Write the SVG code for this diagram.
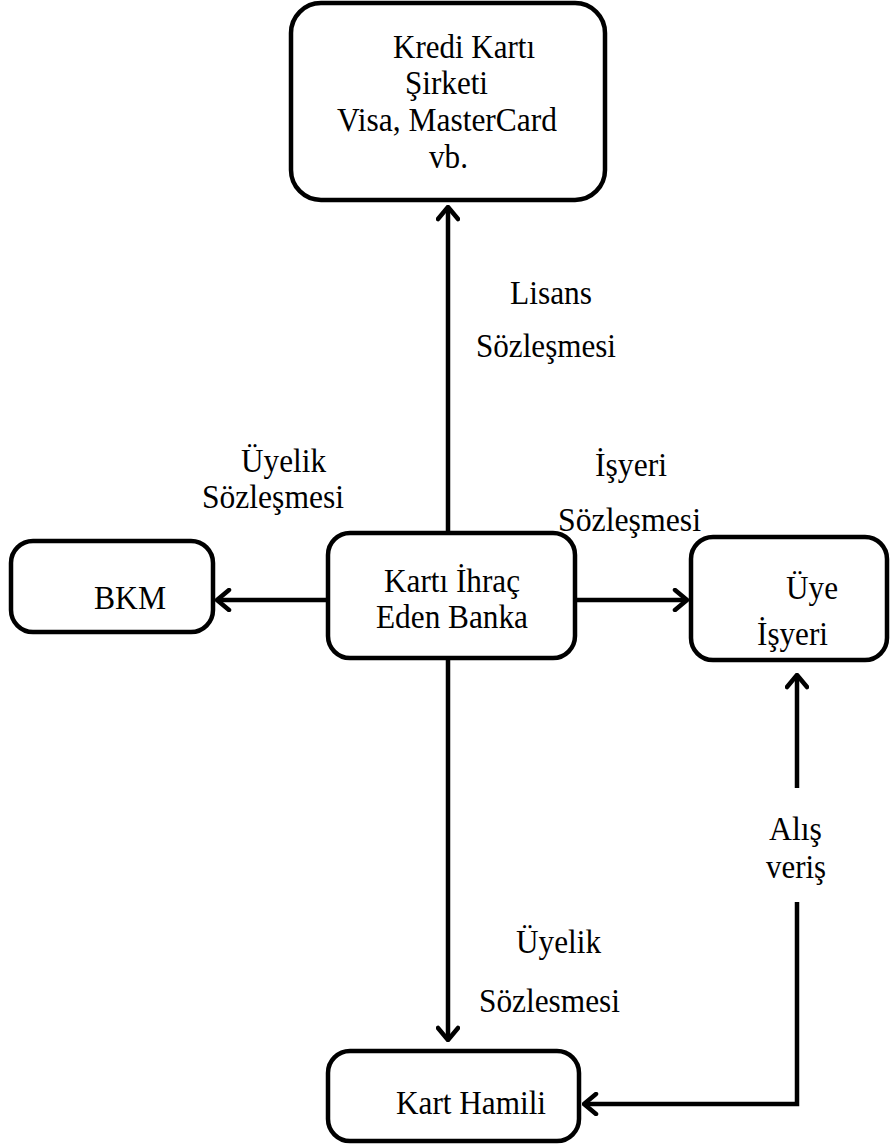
<svg xmlns="http://www.w3.org/2000/svg" width="890" height="1146" viewBox="0 0 890 1146">
<style>
.box{fill:#fff;stroke:#000;stroke-width:4.5}
.t{font-family:"Liberation Serif","Times New Roman",serif;font-size:34px;fill:#000}
.c{fill:none;stroke:#000;stroke-width:4.5}
</style>
<defs>
<marker id="ah" markerUnits="userSpaceOnUse" viewBox="-16 -12 18 24" refX="0" refY="0" markerWidth="18" markerHeight="24" orient="auto">
<polyline points="-12,-10 0,0 -12,10" fill="none" stroke="#000" stroke-width="4.5" stroke-linecap="round" stroke-linejoin="round"/>
</marker>
</defs>
<rect width="890" height="1146" fill="#fff"/>
<g id="connectors">
<line class="c" x1="448" y1="532" x2="448" y2="207" marker-end="url(#ah)"/>
<line class="c" x1="328" y1="600" x2="217" y2="600" marker-end="url(#ah)"/>
<line class="c" x1="574" y1="600" x2="687" y2="600" marker-end="url(#ah)"/>
<line class="c" x1="448" y1="658" x2="448" y2="1040" marker-end="url(#ah)"/>
<polyline class="c" points="797,788 797,675" marker-end="url(#ah)"/>
<polyline class="c" points="797,902 797,1104 584,1104" marker-end="url(#ah)"/>
</g>
<g id="n-kredi">
<rect class="box" x="291" y="3" width="314" height="197" rx="30"/>
<text class="t" x="393" y="58" textLength="142" lengthAdjust="spacingAndGlyphs">Kredi Kartı</text>
<text class="t" x="405" y="94" textLength="83" lengthAdjust="spacingAndGlyphs">Şirketi</text>
<text class="t" x="337" y="131" textLength="220" lengthAdjust="spacingAndGlyphs">Visa, MasterCard</text>
<text class="t" x="429" y="168" textLength="39" lengthAdjust="spacingAndGlyphs">vb.</text>
</g>
<g id="n-banka">
<rect class="box" x="328" y="533" width="247" height="125" rx="22"/>
<text class="t" x="384" y="592" textLength="136" lengthAdjust="spacingAndGlyphs">Kartı İhraç</text>
<text class="t" x="376" y="628" textLength="152" lengthAdjust="spacingAndGlyphs">Eden Banka</text>
</g>
<g id="n-bkm">
<rect class="box" x="11" y="541" width="202" height="91" rx="22"/>
<text class="t" x="94" y="609" textLength="72" lengthAdjust="spacingAndGlyphs">BKM</text>
</g>
<g id="n-uye">
<rect class="box" x="691" y="537" width="196" height="123" rx="22"/>
<text class="t" x="786" y="599" textLength="52" lengthAdjust="spacingAndGlyphs">Üye</text>
<text class="t" x="757" y="645" textLength="71" lengthAdjust="spacingAndGlyphs">İşyeri</text>
</g>
<g id="n-hamili">
<rect class="box" x="328" y="1051" width="251" height="90" rx="22"/>
<text class="t" x="396" y="1114" textLength="150" lengthAdjust="spacingAndGlyphs">Kart Hamili</text>
</g>
<g id="labels">
<text class="t" x="510" y="304" textLength="82" lengthAdjust="spacingAndGlyphs">Lisans</text>
<text class="t" x="476" y="357" textLength="140" lengthAdjust="spacingAndGlyphs">Sözleşmesi</text>
<text class="t" x="241" y="472" textLength="85" lengthAdjust="spacingAndGlyphs">Üyelik</text>
<text class="t" x="202" y="508" textLength="142" lengthAdjust="spacingAndGlyphs">Sözleşmesi</text>
<text class="t" x="595" y="476" textLength="72" lengthAdjust="spacingAndGlyphs">İşyeri</text>
<text class="t" x="558" y="531" textLength="143" lengthAdjust="spacingAndGlyphs">Sözleşmesi</text>
<text class="t" x="769" y="840" textLength="53" lengthAdjust="spacingAndGlyphs">Alış</text>
<text class="t" x="766" y="878" textLength="60" lengthAdjust="spacingAndGlyphs">veriş</text>
<text class="t" x="516" y="953" textLength="85" lengthAdjust="spacingAndGlyphs">Üyelik</text>
<text class="t" x="479" y="1012" textLength="141" lengthAdjust="spacingAndGlyphs">Sözlesmesi</text>
</g>
</svg>
